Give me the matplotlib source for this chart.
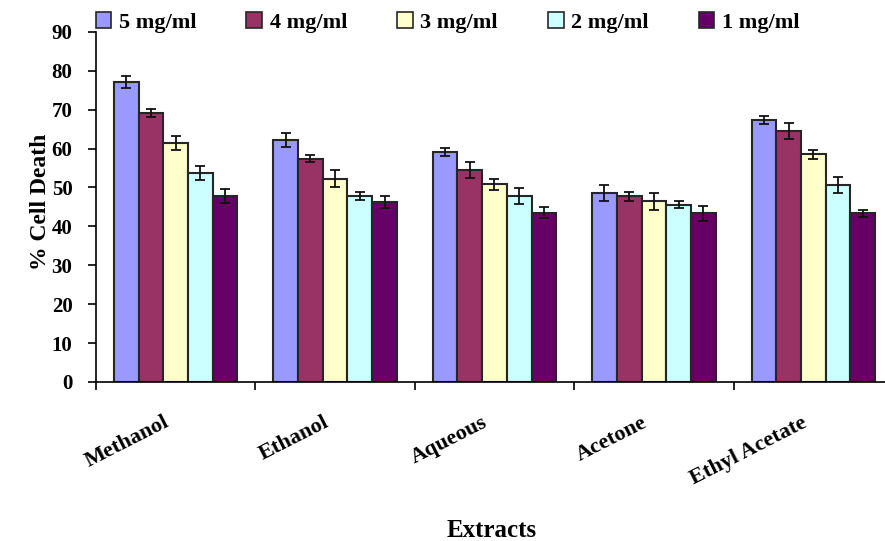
import numpy as np
import matplotlib.pyplot as plt
from matplotlib.patches import Patch

# extractos y concentraciones
extractos = ['Methanol', 'Ethanol', 'Aqueous', 'Acetone', 'Ethyl Acetate']
dosis = ['5 mg/ml', '4 mg/ml', '3 mg/ml', '2 mg/ml', '1 mg/ml']
colores = ['#9999FF', '#993366', '#FFFFCC', '#CCFFFF', '#660066']

# % de muerte celular (una lista por dosis, en el orden de extractos)
muerte_5 = [77.1, 62.2, 59.2, 48.6, 67.4]
muerte_4 = [69.2, 57.4, 54.5, 47.7, 64.5]
muerte_3 = [61.5, 52.3, 50.8, 46.4, 58.5]
muerte_2 = [53.7, 47.8, 47.8, 45.5, 50.7]
muerte_1 = [47.8, 46.3, 43.5, 43.4, 43.4]

err_5 = [1.6, 1.9, 1.0, 2.1, 1.0]
err_4 = [1.1, 0.9, 2.1, 1.1, 2.1]
err_3 = [1.8, 2.1, 1.5, 2.1, 1.2]
err_2 = [1.7, 1.1, 2.1, 0.9, 2.1]
err_1 = [1.9, 1.6, 1.4, 1.9, 0.9]

valores = [muerte_5, muerte_4, muerte_3, muerte_2, muerte_1]
errores = [err_5, err_4, err_3, err_2, err_1]

plt.rcParams['font.family'] = ['Liberation Serif', 'DejaVu Serif']
plt.rcParams['font.weight'] = 'bold'

fig = plt.figure(figsize=(8.85, 5.41), dpi=100)
ax = fig.add_axes([0.1085, 0.294, 0.9005, 0.647])

x = np.arange(len(extractos))
ancho = 0.155
for i in range(len(dosis)):
    ax.bar(x + (i - 2) * ancho, valores[i], ancho, color=colores[i],
           edgecolor='#262626', linewidth=1.5, label=dosis[i], zorder=2)
    ax.errorbar(x + (i - 2) * ancho, valores[i], yerr=errores[i], fmt='none',
                ecolor='#111111', elinewidth=1.3, capsize=3.8, capthick=1.3, zorder=3)

ax.set_xlim(-0.5, 4.5)
ax.set_ylim(0, 90)
ax.set_yticks(range(0, 91, 10))
ax.tick_params(axis='y', direction='out', length=6, width=1.2, labelsize=15, pad=11)

# ticks del eje x en los limites entre grupos, nombres girados en el centro
ax.set_xticks(np.arange(-0.5, 4.6, 1.0))
ax.set_xticklabels([])
ax.tick_params(axis='x', direction='out', length=6, width=1.2)
for xi, nombre in zip(x, extractos):
    ax.annotate(nombre, xy=(xi, 0), xycoords=('data', 'axes fraction'),
                xytext=(-9, -22), textcoords='offset points',
                rotation=27, ha='right', va='top', rotation_mode='anchor',
                fontsize=16, fontweight='bold')

for lado in ['top', 'right']:
    ax.spines[lado].set_visible(False)
ax.spines['left'].set_linewidth(1.2)
ax.spines['bottom'].set_linewidth(1.2)

fig.text(0.0463, 0.627, '% Cell Death', rotation=90, ha='center', va='center',
         fontsize=17, fontweight='bold')
fig.text(0.556, 0.02, 'Extracts', ha='center', va='center',
         fontsize=18, fontweight='bold')

handles = [Patch(facecolor=c, edgecolor='#262626', linewidth=1.2) for c in colores]
fig.legend(handles, dosis, loc='center left', bbox_to_anchor=(0.108, 0.958), ncol=5,
           frameon=False, fontsize=16, handlelength=0.7, handleheight=0.7,
           handletextpad=0.35, columnspacing=2.25, borderpad=0, borderaxespad=0)

fig.savefig('out.png', dpi=100)
